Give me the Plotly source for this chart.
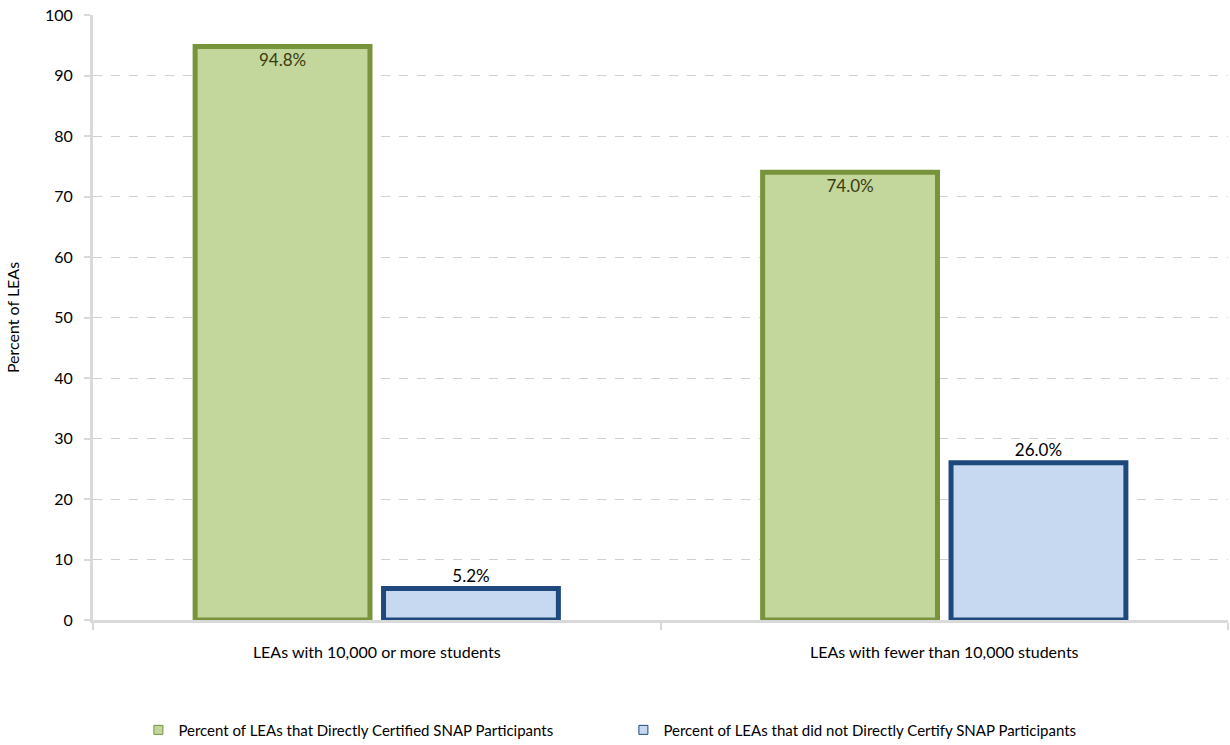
import plotly.graph_objects as go

categories = ["LEAs with 10,000 or more students", "LEAs with fewer than 10,000 students"]
certified = [94.8, 74.0]
not_certified = [5.2, 26.0]
series_names = ["Percent of LEAs that Directly Certified SNAP Participants",
                "Percent of LEAs that did not Directly Certify SNAP Participants"]
y_ticks = [0, 10, 20, 30, 40, 50, 60, 70, 80, 90, 100]

FONT = "Lato"
GREEN_FILL, GREEN_LINE = "#c3d69b", "#77933c"
BLUE_FILL, BLUE_LINE = "#c6d9f1", "#1f497d"

fig = go.Figure()
fig.add_trace(go.Bar(
    x=categories, y=certified, name=series_names[0], showlegend=False,
    legendgroup="a",
    marker=dict(color=GREEN_FILL, line=dict(color=GREEN_LINE, width=5)),
    text=[f"{v:.1f}%" for v in certified],
    textposition="inside", insidetextanchor="end",
    textfont=dict(family=FONT, size=17, color="#3b3b12"),
    cliponaxis=False,
))
fig.add_trace(go.Bar(
    x=categories, y=not_certified, name=series_names[1], showlegend=False,
    legendgroup="b",
    marker=dict(color=BLUE_FILL, line=dict(color=BLUE_LINE, width=5)),
    text=[f"{v:.1f}%" for v in not_certified],
    textposition="outside",
    textfont=dict(family=FONT, size=17, color="#000000"),
    cliponaxis=False,
))
# legend entries with thin outlined swatches (no visible marks)
for nm, fc, lc, grp in [(series_names[0], GREEN_FILL, GREEN_LINE, "a"),
                        (series_names[1], BLUE_FILL, BLUE_LINE, "b")]:
    fig.add_trace(go.Scatter(
        x=[None], y=[None], mode="markers", name=nm, legendgroup=grp,
        marker=dict(symbol="square", size=9, color=fc, line=dict(color=lc, width=1)),
    ))

fig.update_layout(
    width=1230, height=745,
    margin=dict(l=93, r=2, t=15, b=125, autoexpand=False),
    paper_bgcolor="white", plot_bgcolor="white",
    barmode="group", bargap=0.336, bargroupgap=0.072,
    font=dict(family=FONT, size=16, color="#000000"),
    showlegend=True,
    legend=dict(orientation="h", x=0.04, xanchor="left", y=-0.182, yanchor="middle",
                font=dict(family=FONT, size=15), entrywidth=440, itemwidth=30),
)
fig.update_yaxes(
    range=[0, 100], tickvals=y_ticks, ticktext=[str(v) for v in y_ticks],
    showgrid=True, gridcolor="#d0d0d0", griddash="dash", gridwidth=1,
    showline=True, linecolor="#d9d9d9", linewidth=3,
    ticks="outside", ticklen=6, tickcolor="#d9d9d9", tickwidth=2,
    ticklabelstandoff=8,
    zeroline=False,
    title=dict(text="Percent of LEAs", font=dict(family=FONT, size=16), standoff=22),
    tickfont=dict(family=FONT, size=16),
    automargin=False,
)
fig.update_xaxes(
    showline=True, linecolor="#d9d9d9", linewidth=3,
    ticks="outside", tickson="boundaries", ticklen=7, tickcolor="#d9d9d9", tickwidth=2,
    ticklabelstandoff=16,
    tickfont=dict(family=FONT, size=16),
    showgrid=False,
    automargin=False,
)

fig.write_html("out.html")
